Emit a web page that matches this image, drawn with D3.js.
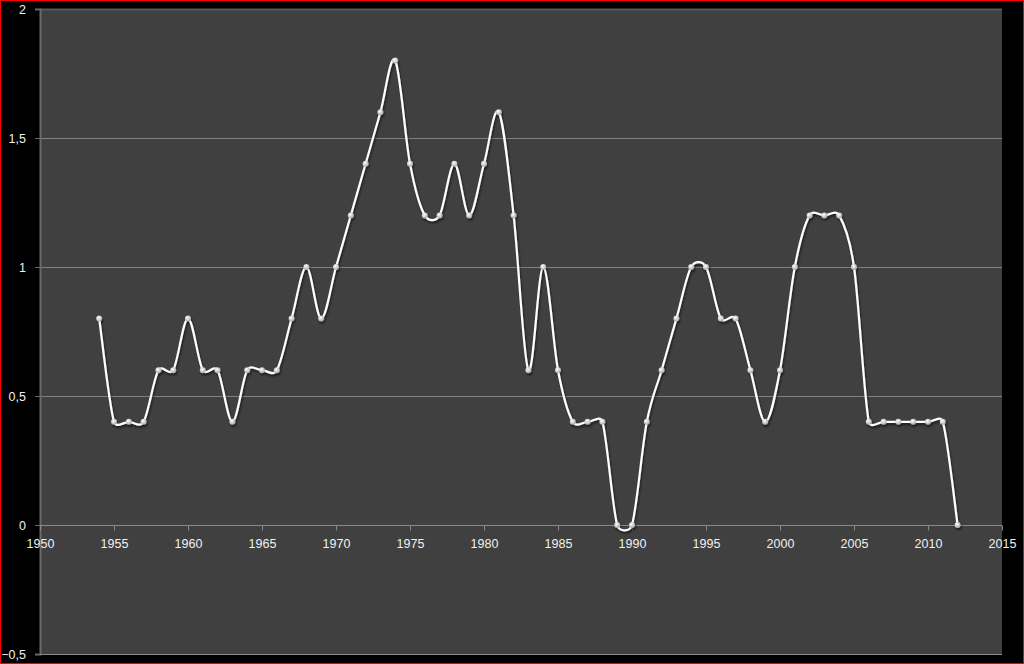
<!DOCTYPE html>
<html><head><meta charset="utf-8">
<script src="https://cdn.jsdelivr.net/npm/d3@7"></script>
<style>
html,body{margin:0;padding:0;background:#000;}
svg{display:block;}
</style></head>
<body>
<script>
const years = [1954,1955,1956,1957,1958,1959,1960,1961,1962,1963,1964,1965,1966,1967,1968,1969,1970,1971,1972,1973,1974,1975,1976,1977,1978,1979,1980,1981,1982,1983,1984,1985,1986,1987,1988,1989,1990,1991,1992,1993,1994,1995,1996,1997,1998,1999,2000,2001,2002,2003,2004,2005,2006,2007,2008,2009,2010,2011,2012];
const values = [0.8,0.4,0.4,0.4,0.6,0.6,0.8,0.6,0.6,0.4,0.6,0.6,0.6,0.8,1.0,0.8,1.0,1.2,1.4,1.6,1.8,1.4,1.2,1.2,1.4,1.2,1.4,1.6,1.2,0.6,1.0,0.6,0.4,0.4,0.4,0,0,0.4,0.6,0.8,1.0,1.0,0.8,0.8,0.6,0.4,0.6,1.0,1.2,1.2,1.2,1.0,0.4,0.4,0.4,0.4,0.4,0.4,0];
const xTicks = [1950,1955,1960,1965,1970,1975,1980,1985,1990,1995,2000,2005,2010,2015];
const yTicks = [-0.5,0,0.5,1,1.5,2];

const W = 1024, H = 664;
const L = 40, R = 1002, T = 9, B = 654;

// Spreadsheet-style smoothed line: Bezier control arms of 1/6 of the chord, capped at half the segment
function SmoothCurve(context){ this._context = context; }
SmoothCurve.prototype = {
  areaStart(){}, areaEnd(){},
  lineStart(){ this._pts = []; },
  point(px, py){ this._pts.push([+px, +py]); },
  lineEnd(){
    const p = this._pts, c = this._context, n = p.length;
    if (!n) return;
    const dist = (a,b) => Math.hypot(a[0]-b[0], a[1]-b[1]);
    c.moveTo(p[0][0], p[0][1]);
    for (let i = 0; i < n-1; i++){
      const p0 = p[Math.max(i-1,0)], p1 = p[i], p2 = p[i+1], p3 = p[Math.min(i+2,n-1)];
      const d12 = dist(p1,p2), d02 = dist(p0,p2), d13 = dist(p1,p3);
      const l0 = Math.min(d02/6, d12/2), l1 = Math.min(d13/6, d12/2);
      const c1 = d02 > 0 ? [p1[0] + (p2[0]-p0[0])*l0/d02, p1[1] + (p2[1]-p0[1])*l0/d02] : p1;
      const c2 = d13 > 0 ? [p2[0] - (p3[0]-p1[0])*l1/d13, p2[1] - (p3[1]-p1[1])*l1/d13] : p2;
      c.bezierCurveTo(c1[0], c1[1], c2[0], c2[1], p2[0], p2[1]);
    }
  }
};
const curveSmooth = ctx => new SmoothCurve(ctx);

const svg = d3.select("body").append("svg").attr("width", W).attr("height", H);
svg.append("rect").attr("x",0).attr("y",0).attr("width",W).attr("height",H).attr("fill","#000");
svg.append("rect").attr("x",0.5).attr("y",0.5).attr("width",W-1).attr("height",H-1)
  .attr("fill","none").attr("stroke","#ff0000").attr("stroke-width",1);

const defs = svg.append("defs");
const grad = defs.append("radialGradient").attr("id","mk").attr("cx","40%").attr("cy","35%").attr("r","65%");
grad.append("stop").attr("offset","0%").attr("stop-color","#ffffff");
grad.append("stop").attr("offset","100%").attr("stop-color","#a8a8a8");
const blur = defs.append("filter").attr("id","sh").attr("x","-10%").attr("y","-10%").attr("width","120%").attr("height","120%");
blur.append("feGaussianBlur").attr("in","SourceAlpha").attr("stdDeviation",1.2).attr("result","b");
blur.append("feOffset").attr("in","b").attr("dx",1).attr("dy",1.5).attr("result","o");
blur.append("feComponentTransfer").attr("in","o").attr("result","o2").append("feFuncA").attr("type","linear").attr("slope",0.6);
const m = blur.append("feMerge");
m.append("feMergeNode").attr("in","o2");
m.append("feMergeNode").attr("in","SourceGraphic");

const x = d3.scaleLinear().domain([1950,2015]).range([L,R]);
const y = d3.scaleLinear().domain([-0.5,2]).range([B,T]);

svg.append("rect").attr("x",L).attr("y",T).attr("width",R-L).attr("height",B-T).attr("fill","#404040");

// gridlines
svg.append("g").selectAll("line").data(yTicks.filter(v=>v>0)).join("line")
  .attr("x1",L).attr("x2",R).attr("y1",d=>Math.round(y(d))+0.5).attr("y2",d=>Math.round(y(d))+0.5)
  .attr("stroke", d=> d===2 ? "#595959" : "#808080").attr("stroke-width", d=> d===2 ? 2 : 1);

const fontFam = "'Liberation Sans', Arial, sans-serif";
// y axis
const yAxis = d3.axisLeft(y).tickValues(yTicks).tickSize(5).tickPadding(9)
  .tickFormat(d => d3.format("")(d).replace(".", ","));
const gy = svg.append("g").attr("transform",`translate(${L},0)`).call(yAxis);
gy.select(".domain").attr("stroke","#6a6a6a").attr("stroke-width",2);
gy.selectAll(".tick line").attr("stroke","#6a6a6a");
gy.selectAll("text").attr("fill","#f0f0f0").style("font-family",fontFam).style("font-size","12.5px");

// x axis at y=0
const xAxis = d3.axisBottom(x).tickValues(xTicks).tickSize(5).tickPadding(9).tickFormat(d3.format("d"));
const gx = svg.append("g").attr("transform",`translate(0,${Math.round(y(0))+0.5})`).call(xAxis);
gx.select(".domain").attr("stroke","#8a8a8a").attr("d",`M${L},0H${R}`);
gx.selectAll(".tick line").attr("stroke","#8a8a8a");
gx.selectAll("text").attr("fill","#f0f0f0").style("font-family",fontFam).style("font-size","12.5px");

// bottom border line of plot
svg.append("line").attr("x1",L).attr("x2",R).attr("y1",B+0.5).attr("y2",B+0.5).attr("stroke","#8a8a8a");

const data = years.map((yr,i)=>({yr, v: values[i]}));
const line = d3.line().x(d=>x(d.yr)).y(d=>y(d.v)).curve(curveSmooth);
const g = svg.append("g").attr("filter","url(#sh)");
g.append("path").datum(data).attr("d",line).attr("fill","none").attr("stroke","#ffffff").attr("stroke-width",2.2);
g.selectAll("circle").data(data).join("circle")
  .attr("cx",d=>x(d.yr)).attr("cy",d=>y(d.v)).attr("r",3)
  .attr("fill","url(#mk)");
</script>
</body></html>
